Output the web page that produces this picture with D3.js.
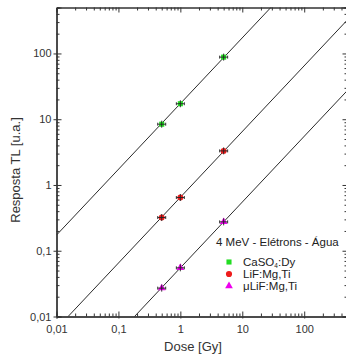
<!DOCTYPE html>
<html>
<head>
<meta charset="utf-8">
<script src="https://cdn.jsdelivr.net/npm/d3@7"></script>
<style>
body { margin: 0; background: #fff; }
svg { display: block; font-family: "Liberation Sans", Arial, sans-serif; }
.lbl { fill: #333; font-size: 11px; }
</style>
</head>
<body>
<div id="chart"></div>
<script>
// data
var majorTicks = [0.01, 0.1, 1, 10, 100];
var tickLabels = ["0,01", "0,1", "1", "10", "100"];
var doses = [0.5, 1, 5];
var caso4 = [8.4, 17.2, 88];
var lif = [0.32, 0.645, 3.3];
var ulif = [0.027, 0.055, 0.275];
// fitted slope-1 lines y = a * dose
var fitA = [17.3, 0.65, 0.055];
var seriesNames = ["CaSO4:Dy", "LiF:Mg,Ti", "\u03bcLiF:Mg,Ti"];
var colors = ["#22dd22", "#ee1c1c", "#ee00ee"];

var width = 346, height = 358;
var pLeft = 56.5, pRight = 347.5, pTop = 7.5, pBottom = 316.5;

var svg = d3.select("#chart").append("svg")
    .attr("width", width)
    .attr("height", height);

var x = d3.scaleLog().domain([0.01, 500]).range([pLeft, pRight]);
var y = d3.scaleLog().domain([0.01, 500]).range([pBottom, pTop]);

var minorTicks = [];
[0.01, 0.1, 1, 10, 100].forEach(function(d) {
    for (var k = 2; k <= 9; k++) {
        if (d * k <= 500) minorTicks.push(d * k);
    }
});

svg.append("clipPath").attr("id", "clip")
    .append("rect")
    .attr("x", pLeft).attr("y", pTop)
    .attr("width", pRight - pLeft).attr("height", pBottom - pTop);

// fit lines
var plot = svg.append("g").attr("clip-path", "url(#clip)");
fitA.forEach(function(a) {
    plot.append("line")
        .attr("x1", x(0.01)).attr("y1", y(a * 0.01))
        .attr("x2", x(500)).attr("y2", y(a * 500))
        .attr("stroke", "#2a2a2a")
        .attr("stroke-width", 1);
});

// axes
function styleAxis(g) {
    g.select(".domain").attr("stroke", "#333");
    g.selectAll(".tick line").attr("stroke", "#333");
}

// bottom
svg.append("g").attr("transform", "translate(0," + pBottom + ")")
    .call(d3.axisBottom(x).tickValues(minorTicks).tickSize(-3).tickFormat(""))
    .call(styleAxis);
svg.append("g").attr("transform", "translate(0," + pBottom + ")")
    .call(d3.axisBottom(x).tickValues(majorTicks).tickSizeInner(-5).tickSizeOuter(0)
        .tickFormat(function(d, i) { return tickLabels[i]; }))
    .call(styleAxis)
    .call(function(g) {
        g.selectAll("text").attr("class", "lbl").attr("font-family", null).attr("font-size", null)
            .attr("y", 9);
    });
svg.append("g").attr("transform", "translate(0," + pBottom + ")")
    .call(d3.axisBottom(x).tickValues(majorTicks).tickSize(2).tickFormat(""))
    .call(styleAxis);

// left
svg.append("g").attr("transform", "translate(" + pLeft + ",0)")
    .call(d3.axisLeft(y).tickValues(minorTicks).tickSize(-3).tickFormat(""))
    .call(styleAxis);
svg.append("g").attr("transform", "translate(" + pLeft + ",0)")
    .call(d3.axisLeft(y).tickValues(majorTicks).tickSizeInner(3).tickSizeOuter(0)
        .tickFormat(function(d, i) { return tickLabels[i]; }))
    .call(styleAxis)
    .call(function(g) {
        g.selectAll("text").attr("class", "lbl").attr("font-family", null).attr("font-size", null)
            .attr("x", -5);
    });
svg.append("g").attr("transform", "translate(" + pLeft + ",0)")
    .call(d3.axisLeft(y).tickValues(majorTicks).tickSize(-5).tickFormat(""))
    .call(styleAxis);

// top and right mirror axes
svg.append("g").attr("transform", "translate(0," + pTop + ")")
    .call(d3.axisTop(x).tickValues(minorTicks).tickSize(-3).tickFormat(""))
    .call(styleAxis);
svg.append("g").attr("transform", "translate(0," + pTop + ")")
    .call(d3.axisTop(x).tickValues(majorTicks).tickSize(-5).tickFormat(""))
    .call(styleAxis);
svg.append("g").attr("transform", "translate(" + pRight + ",0)")
    .call(d3.axisRight(y).tickValues(minorTicks).tickSize(-3).tickFormat(""))
    .call(styleAxis);
svg.append("g").attr("transform", "translate(" + pRight + ",0)")
    .call(d3.axisRight(y).tickValues(majorTicks).tickSize(-5).tickFormat(""))
    .call(styleAxis);

// data points with error bars
var symbols = [d3.symbolSquare, d3.symbolCircle, d3.symbolTriangle];
var sizes = [26, 28, 26];
[caso4, lif, ulif].forEach(function(vals, s) {
    vals.forEach(function(v, i) {
        var px = x(doses[i]), py = y(v);
        svg.append("path")
            .attr("d", d3.symbol().type(symbols[s]).size(sizes[s])())
            .attr("transform", "translate(" + px + "," + py + ")")
            .attr("fill", colors[s]);
        var g = svg.append("g").attr("stroke", "#222").attr("stroke-width", 0.9);
        g.append("line").attr("x1", px - 4).attr("x2", px + 4).attr("y1", py).attr("y2", py);
        g.append("line").attr("x1", px).attr("x2", px).attr("y1", py - 3.5).attr("y2", py + 3.5);
        g.append("line").attr("x1", px - 4).attr("x2", px - 4).attr("y1", py - 1.5).attr("y2", py + 1.5);
        g.append("line").attr("x1", px + 4).attr("x2", px + 4).attr("y1", py - 1.5).attr("y2", py + 1.5);
    });
});

// axis titles
svg.append("text")
    .attr("x", 193).attr("y", 351)
    .attr("text-anchor", "middle")
    .attr("fill", "#333").attr("font-size", "13px")
    .text("Dose [Gy]");
svg.append("text")
    .attr("transform", "translate(20,170) rotate(-90)")
    .attr("text-anchor", "middle")
    .attr("fill", "#333").attr("font-size", "13px")
    .text("Resposta TL [u.a.]");

// legend
var leg = svg.append("g").attr("font-size", "11.5px").attr("fill", "#222");
leg.append("text").attr("x", 216).attr("y", 246).text("4 MeV - El\u00e9trons - \u00c1gua");
var legY = [262, 274, 286];
legY.forEach(function(ly, s) {
    leg.append("path")
        .attr("d", d3.symbol().type(symbols[s]).size(s == 1 ? 30 : 26)())
        .attr("transform", "translate(229," + ly + ")")
        .attr("fill", colors[s]);
});
var t0 = leg.append("text").attr("x", 243).attr("y", legY[0] + 4);
t0.append("tspan").text("CaSO");
t0.append("tspan").attr("font-size", "6.5px").attr("dy", 1.5).text("4");
t0.append("tspan").attr("dy", -1.5).text(":Dy");
leg.append("text").attr("x", 243).attr("y", legY[1] + 4).text(seriesNames[1]);
leg.append("text").attr("x", 243).attr("y", legY[2] + 4).text(seriesNames[2]);
</script>
</body>
</html>
